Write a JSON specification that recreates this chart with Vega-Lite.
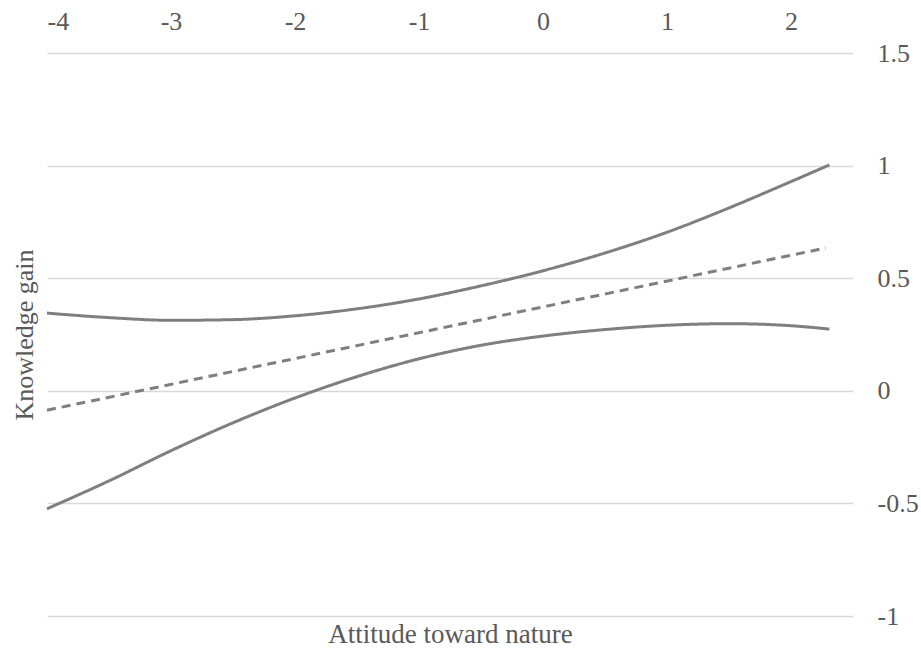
{
  "$schema": "https://vega.github.io/schema/vega-lite/v6.json",
  "width": 806,
  "height": 563,
  "autosize": {"type": "none"},
  "padding": {"left": 47, "top": 53, "right": 68, "bottom": 34},
  "background": "white",
  "config": {
    "view": {"stroke": null},
    "font": "Liberation Serif",
    "axis": {
      "labelFont": "Liberation Serif",
      "titleFont": "Liberation Serif",
      "labelColor": "#595959",
      "titleColor": "#595959",
      "titleFontWeight": "normal",
      "domain": false,
      "ticks": false
    }
  },
  "data": {
    "values": [
      {"x": -4, "y": 0.345, "series": "upper"},
      {"x": -3.5, "y": 0.325, "series": "upper"},
      {"x": -3, "y": 0.313, "series": "upper"},
      {"x": -2.5, "y": 0.316, "series": "upper"},
      {"x": -2, "y": 0.333, "series": "upper"},
      {"x": -1.5, "y": 0.364, "series": "upper"},
      {"x": -1, "y": 0.408, "series": "upper"},
      {"x": -0.5, "y": 0.466, "series": "upper"},
      {"x": 0, "y": 0.533, "series": "upper"},
      {"x": 0.5, "y": 0.612, "series": "upper"},
      {"x": 1, "y": 0.704, "series": "upper"},
      {"x": 1.5, "y": 0.812, "series": "upper"},
      {"x": 2, "y": 0.929, "series": "upper"},
      {"x": 2.31, "y": 1.003, "series": "upper"},
      {"x": -4, "y": -0.524, "series": "lower"},
      {"x": -3.5, "y": -0.4, "series": "lower"},
      {"x": -3, "y": -0.266, "series": "lower"},
      {"x": -2.5, "y": -0.142, "series": "lower"},
      {"x": -2, "y": -0.032, "series": "lower"},
      {"x": -1.5, "y": 0.063, "series": "lower"},
      {"x": -1, "y": 0.142, "series": "lower"},
      {"x": -0.5, "y": 0.202, "series": "lower"},
      {"x": 0, "y": 0.243, "series": "lower"},
      {"x": 0.5, "y": 0.272, "series": "lower"},
      {"x": 1, "y": 0.291, "series": "lower"},
      {"x": 1.5, "y": 0.298, "series": "lower"},
      {"x": 2, "y": 0.289, "series": "lower"},
      {"x": 2.31, "y": 0.274, "series": "lower"},
      {"x": -4, "y": -0.086, "series": "estimate"},
      {"x": 2.28, "y": 0.634, "series": "estimate"}
    ]
  },
  "resolve": {"axis": {"x": "independent", "y": "independent"}},
  "layer": [
    {
      "mark": {"type": "line", "interpolate": "monotone", "strokeWidth": 3, "color": "#7f7f7f"},
      "encoding": {
        "x": {
          "field": "x", "type": "quantitative",
          "scale": {"domain": [-4, 2.5], "nice": false, "zero": false},
          "axis": {
            "orient": "top", "values": [-4, -3, -2, -1, 0, 1, 2],
            "labelExpr": "'' + datum.value", "labelFontSize": 26,
            "labelPadding": 19, "grid": false, "title": null
          }
        },
        "y": {
          "field": "y", "type": "quantitative",
          "scale": {"domain": [-1, 1.5], "nice": false, "zero": false},
          "axis": {
            "orient": "right", "values": [-1, -0.5, 0, 0.5, 1, 1.5],
            "labelExpr": "'' + datum.value", "labelFontSize": 26,
            "labelPadding": 24, "grid": true, "gridColor": "#d9d9d9",
            "gridWidth": 1.5, "title": null
          }
        },
        "detail": {"field": "series"},
        "strokeDash": {
          "field": "series", "type": "nominal",
          "scale": {"domain": ["upper", "lower", "estimate"], "range": [[1, 0], [1, 0], [9, 6]]},
          "legend": null
        }
      }
    },
    {
      "mark": {"type": "line", "opacity": 0},
      "encoding": {
        "x": {
          "field": "x", "type": "quantitative",
          "axis": {
            "orient": "bottom", "labels": false, "grid": false,
            "title": "Attitude toward nature", "titleFontSize": 27, "titlePadding": 5
          }
        },
        "y": {
          "field": "y", "type": "quantitative",
          "axis": {
            "orient": "left", "labels": false, "grid": false,
            "title": "Knowledge gain", "titleFontSize": 26, "titlePadding": 10
          }
        },
        "detail": {"field": "series"}
      }
    }
  ]
}
